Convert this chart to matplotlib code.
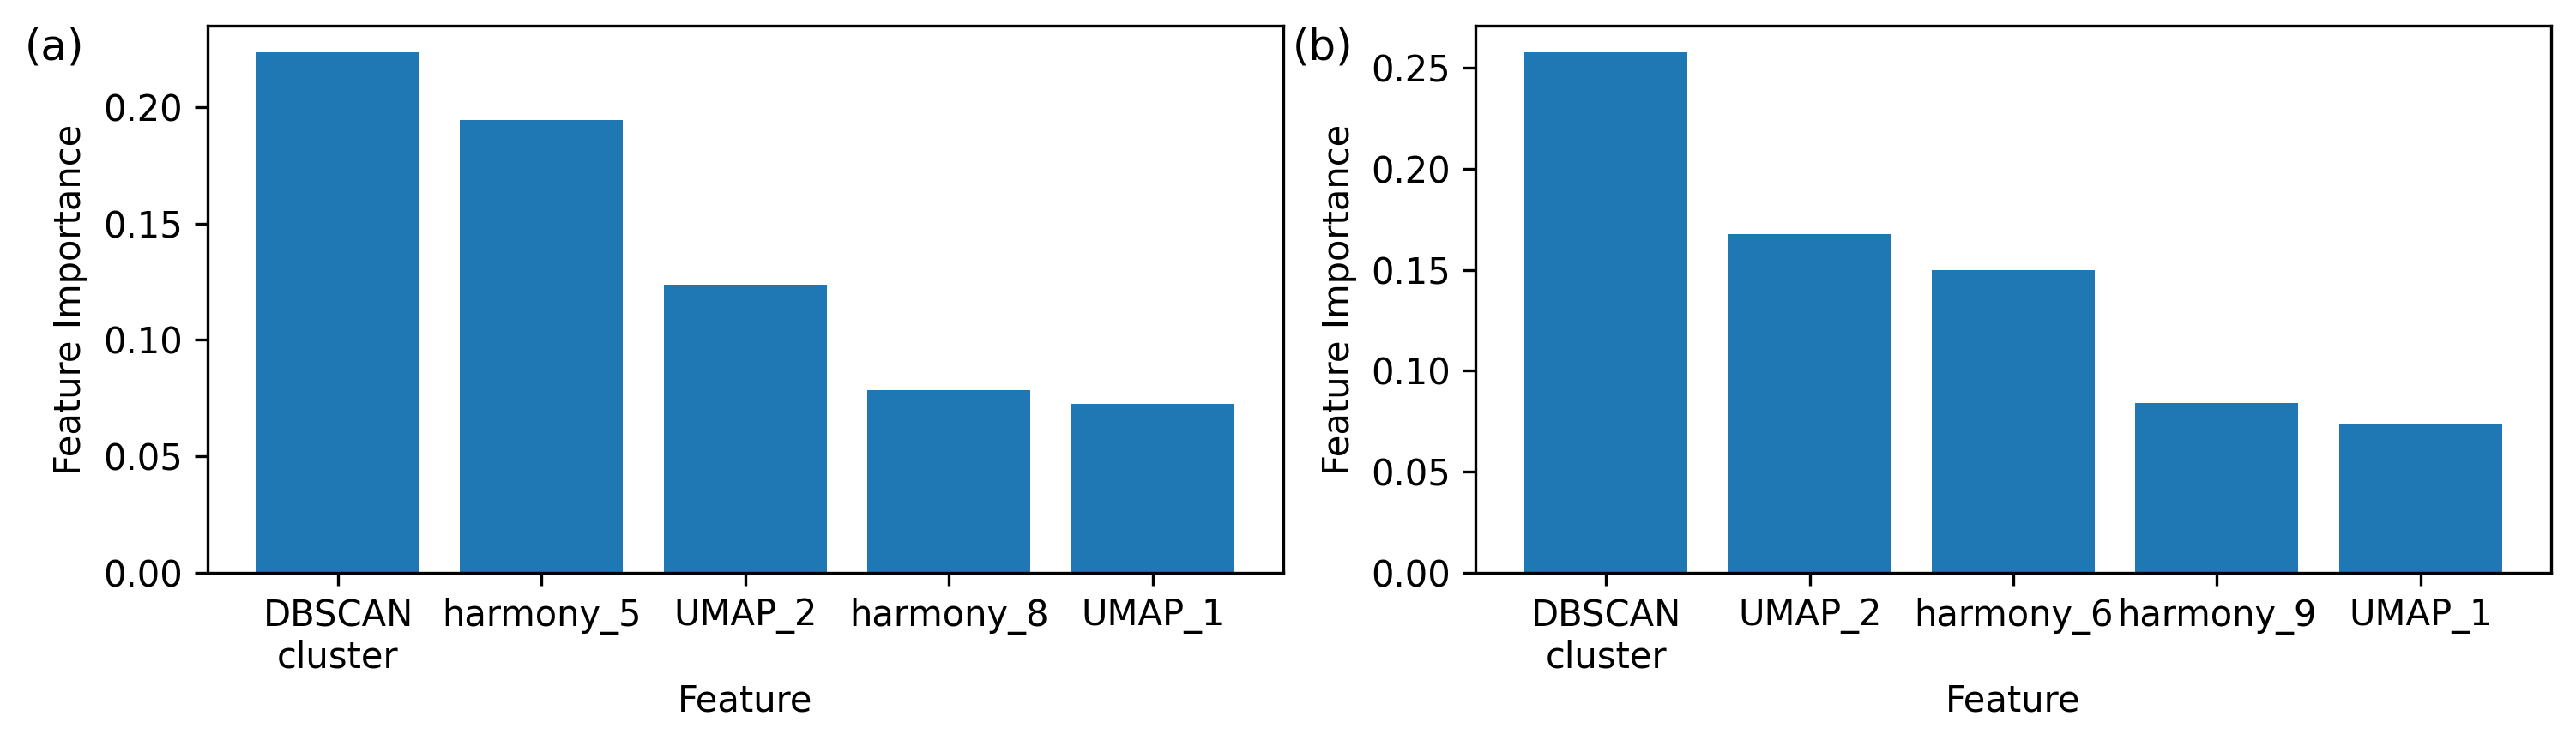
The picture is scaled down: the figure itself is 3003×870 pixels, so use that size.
import matplotlib
matplotlib.use("Agg")
import matplotlib.pyplot as plt

# Panel (a)
features_a = ["DBSCAN\ncluster", "harmony_5", "UMAP_2", "harmony_8", "UMAP_1"]
importance_a = [0.2235, 0.1943, 0.1237, 0.0786, 0.0727]

# Panel (b)
features_b = ["DBSCAN\ncluster", "UMAP_2", "harmony_6", "harmony_9", "UMAP_1"]
importance_b = [0.2576, 0.1678, 0.1500, 0.0840, 0.0739]

panel_labels = ["(a)", "(b)"]


def main():
    fig, axes = plt.subplots(1, 2, figsize=(10.01, 2.9), dpi=300)
    fig.subplots_adjust(left=0.0806, right=0.9903, top=0.965, bottom=0.232, wspace=0.179)

    for ax, feats, vals, lab in zip(axes, [features_a, features_b],
                                    [importance_a, importance_b], panel_labels):
        ax.bar(feats, vals, color="#1f77b4")
        ax.set_xlabel("Feature", labelpad=2)
        ax.set_ylabel("Feature Importance")
        ax.text(-0.17, 0.96, lab, transform=ax.transAxes, fontsize=12,
                ha="left", va="center")

    fig.savefig("out.png", dpi=300)
    plt.close(fig)


if __name__ == "__main__":
    main()
